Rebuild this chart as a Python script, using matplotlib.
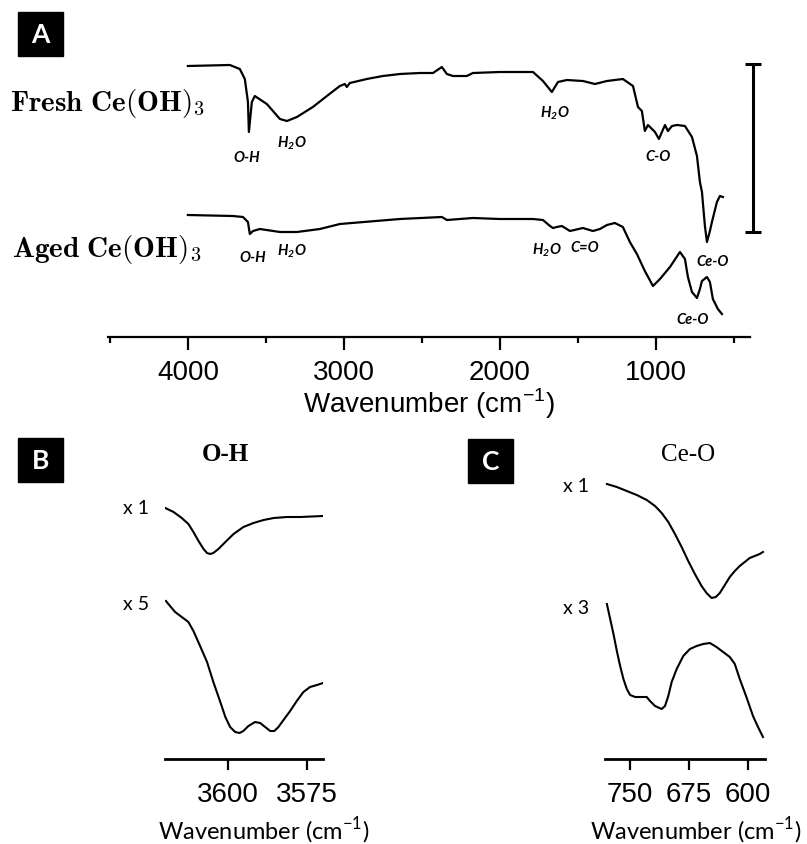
import matplotlib
matplotlib.use('Agg')
import matplotlib.pyplot as plt
from matplotlib.patches import Rectangle
from matplotlib.ticker import FixedLocator

# ---- panel A: full FTIR spectra (wavenumber, transmittance a.u., offset) ----
fresh_wn = [4000, 3731, 3667, 3635, 3615, 3609, 3590, 3571, 3494, 3410, 3365, 3301,
            3199, 3109, 3026, 2994, 2981, 2962, 2853, 2750, 2641, 2513, 2429, 2372,
            2340, 2301, 2212, 2173, 2000, 1788, 1724, 1667, 1628, 1571, 1468, 1391,
            1314, 1212, 1147, 1115, 1090, 1071, 1051, 1006, 981, 942, 923, 897, 865,
            814, 769, 737, 718, 705, 686, 673, 654, 641, 609, 590, 571]
fresh_t = [2.73, 2.74, 2.70, 2.60, 2.37, 2.07, 2.37, 2.43, 2.35, 2.20, 2.18, 2.22,
           2.32, 2.43, 2.53, 2.55, 2.52, 2.56, 2.60, 2.63, 2.65, 2.66, 2.66, 2.72,
           2.65, 2.63, 2.63, 2.66, 2.67, 2.67, 2.58, 2.47, 2.57, 2.59, 2.58, 2.55,
           2.58, 2.60, 2.53, 2.32, 2.28, 2.08, 2.14, 2.07, 2.00, 2.14, 2.08, 2.13,
           2.14, 2.13, 2.02, 1.83, 1.57, 1.47, 1.13, 0.97, 1.08, 1.17, 1.37, 1.43,
           1.42]

aged_wn = [4000, 3712, 3647, 3615, 3603, 3583, 3538, 3410, 3301, 3154, 3026, 2641,
           2372, 2340, 2173, 2000, 1788, 1724, 1679, 1660, 1635, 1603, 1551, 1468,
           1404, 1359, 1314, 1263, 1212, 1167, 1122, 1071, 1019, 974, 910, 846, 814,
           795, 769, 737, 718, 705, 673, 654, 635, 603, 577]
aged_t = [1.24, 1.23, 1.22, 1.17, 1.05, 1.08, 1.10, 1.07, 1.07, 1.10, 1.15, 1.20,
          1.22, 1.19, 1.21, 1.20, 1.20, 1.19, 1.13, 1.11, 1.12, 1.13, 1.08, 1.11,
          1.08, 1.10, 1.14, 1.16, 1.12, 0.97, 0.85, 0.68, 0.53, 0.60, 0.72, 0.87,
          0.80, 0.62, 0.47, 0.41, 0.50, 0.58, 0.62, 0.57, 0.40, 0.30, 0.25]

# band labels: (text, wavenumber, transmittance)
band_labels = [
    ("O-H", 3622, 1.82), (r"H$_\mathregular{2}$O", 3333, 1.97),
    (r"H$_\mathregular{2}$O", 1647, 2.27), ("C-O", 987, 1.83), ("Ce-O", 635, 0.78),
    ("O-H", 3583, 0.82), (r"H$_\mathregular{2}$O", 3333, 0.89),
    (r"H$_\mathregular{2}$O", 1699, 0.90), ("C=O", 1455, 0.92), ("Ce-O", 763, 0.20),
]

# ---- panel B: O-H region ----
oh_fresh_wn = [3619.9, 3617.3, 3614.7, 3612.6, 3611.0, 3609.4, 3607.8, 3606.7, 3605.7,
               3604.7, 3603.1, 3600.9, 3598.3, 3595.2, 3592.0, 3588.8, 3585.6, 3581.4,
               3577.2, 3570.0]
oh_fresh_t = [2.51, 2.47, 2.41, 2.35, 2.27, 2.18, 2.10, 2.06, 2.05, 2.06, 2.10, 2.17,
              2.25, 2.32, 2.36, 2.39, 2.41, 2.42, 2.42, 2.43]
oh_aged_wn = [3619.7, 3618.4, 3616.8, 3614.7, 3612.6, 3611.0, 3608.9, 3606.7, 3604.7,
              3602.5, 3600.9, 3599.4, 3597.8, 3596.4, 3595.2, 3593.6, 3591.5, 3589.9,
              3588.3, 3586.7, 3585.4, 3584.1, 3582.5, 3580.4, 3578.3, 3576.2, 3574.1,
              3571.9, 3570.0]
oh_aged_t = [1.58, 1.53, 1.47, 1.42, 1.37, 1.28, 1.13, 0.97, 0.77, 0.57, 0.42, 0.32,
             0.27, 0.26, 0.28, 0.33, 0.37, 0.36, 0.32, 0.28, 0.28, 0.32, 0.39, 0.48,
             0.58, 0.67, 0.72, 0.74, 0.76]

# ---- panel C: Ce-O region ----
ceo_fresh_wn = [779.6, 766.9, 754.2, 741.5, 728.8, 718.2, 709.7, 701.3, 692.8, 684.3,
                675.9, 667.4, 658.9, 652.5, 646.1, 640.7, 635.6, 629.2, 622.9, 616.5,
                610.2, 603.8, 597.5, 591.1, 584.8, 580.6]
ceo_fresh_t = [2.75, 2.72, 2.68, 2.64, 2.59, 2.53, 2.46, 2.37, 2.25, 2.12, 1.98, 1.85,
               1.73, 1.66, 1.61, 1.62, 1.66, 1.74, 1.82, 1.88, 1.93, 1.97, 2.01, 2.03,
               2.05, 2.07]
ceo_aged_wn = [779.6, 775.4, 771.2, 766.9, 762.7, 758.5, 754.2, 750.0, 743.6, 735.1,
               728.8, 724.6, 718.2, 709.7, 705.5, 701.3, 697.0, 690.6, 682.2, 673.7,
               665.2, 656.8, 648.3, 639.8, 631.4, 622.9, 616.5, 610.2, 601.7, 593.3,
               586.9, 580.6]
ceo_aged_t = [1.55, 1.40, 1.25, 1.08, 0.93, 0.80, 0.70, 0.64, 0.62, 0.62, 0.62, 0.58,
              0.53, 0.50, 0.53, 0.63, 0.77, 0.90, 1.03, 1.10, 1.13, 1.15, 1.16, 1.12,
              1.07, 1.02, 0.95, 0.80, 0.62, 0.43, 0.32, 0.22]

W, H = 807, 845
fig = plt.figure(figsize=(W / 100, H / 100), dpi=100)


def fx(px):
    return px / W


def fy(py):
    return 1 - py / H


def clean(ax):
    for s in ["left", "top", "right"]:
        ax.spines[s].set_visible(False)
    ax.set_yticks([])
    ax.patch.set_alpha(0)


# panel A
axA = fig.add_axes([fx(108), fy(338), fx(750 - 108), (338 - 40) / H])
clean(axA)
axA.plot(fresh_wn, fresh_t, color="black", lw=1.6)
axA.plot(aged_wn, aged_t, color="black", lw=1.6)
axA.set_xlim(4512, 397)
axA.set_ylim(0.02, 3.0)
axA.spines["bottom"].set_linewidth(1.6)
axA.xaxis.set_major_locator(FixedLocator([4000, 3000, 2000, 1000]))
axA.xaxis.set_minor_locator(FixedLocator([4500, 3500, 2500, 1500, 500]))
axA.tick_params(axis="x", which="major", length=9, width=1.6, pad=7,
                labelsize=20, labelfontfamily="Liberation Sans")
axA.tick_params(axis="x", which="minor", length=4, width=1.6)
axA.set_xlabel(r"Wavenumber (cm$^{\mathregular{-1}}$)", fontsize=20,
               family="Liberation Sans", labelpad=0)
for txt, wn, t in band_labels:
    axA.text(wn, t, txt, ha="center", va="center", fontsize=10.5,
             family="Lato", style="italic", weight="bold")
# scale bar
axA.errorbar([378], [1.91], yerr=[0.84], color="black", elinewidth=2.2,
             capsize=5.5, capthick=2.2, clip_on=False)

fig.text(fx(10), fy(103), r"$\mathbf{Fresh\ Ce(OH)}_3$", fontsize=21,
         math_fontfamily="cm", va="center", ha="left")
fig.text(fx(12), fy(250), r"$\mathbf{Aged\ Ce(OH)}_3$", fontsize=21,
         math_fontfamily="cm", va="center", ha="left")


def inset(left, right, xlim, ticks, fresh, aged, title, title_x, title_w,
          labels, label_ys, xlabel_x):
    ax = fig.add_axes([fx(left), fy(760), fx(right - left), 280 / H])
    clean(ax)
    ax.plot(fresh[0], fresh[1], color="black", lw=1.5)
    ax.plot(aged[0], aged[1], color="black", lw=1.5)
    ax.set_xlim(*xlim)
    ax.set_ylim(0, 2.8)
    ax.spines["bottom"].set_linewidth(2)
    ax.set_xticks(ticks)
    ax.tick_params(axis="x", length=8, width=1.6, pad=8, labelsize=20,
                   labelfontfamily="Liberation Sans")
    fig.text(fx(title_x), fy(455), title, ha="center", va="center",
             fontsize=18, family="Liberation Serif", weight=title_w)
    for lab, y in zip(labels, label_ys):
        fig.text(fx(left - 42), fy(y), lab, ha="left", va="center",
                 fontsize=14, family="Lato")
    fig.text(fx(xlabel_x), fy(831), r"Wavenumber (cm$^{\mathregular{-1}}$)",
             ha="center", va="center", fontsize=17, family="Lato")
    return ax


inset(165, 323, (3620, 3570), [3600, 3575], (oh_fresh_wn, oh_fresh_t),
      (oh_aged_wn, oh_aged_t), "O-H", 225, "bold", ["x 1", "x 5"], [509, 604], 264)
inset(605, 765, (782, 578), [750, 675, 600], (ceo_fresh_wn, ceo_fresh_t),
      (ceo_aged_wn, ceo_aged_t), "Ce-O", 688, "normal", ["x 1", "x 3"], [487, 609], 696)

# panel letters
for letter, x0, y0 in [("A", 18, 13), ("B", 18, 439), ("C", 468, 440)]:
    fig.patches.append(Rectangle((fx(x0), fy(y0 + 44)), 45 / W, 44 / H,
                                 transform=fig.transFigure, color="black"))
    fig.text(fx(x0 + 22.5), fy(y0 + 22), letter, color="white", ha="center",
             va="center", fontsize=19, family="Lato", weight="bold")

fig.savefig("out.png", dpi=100)
